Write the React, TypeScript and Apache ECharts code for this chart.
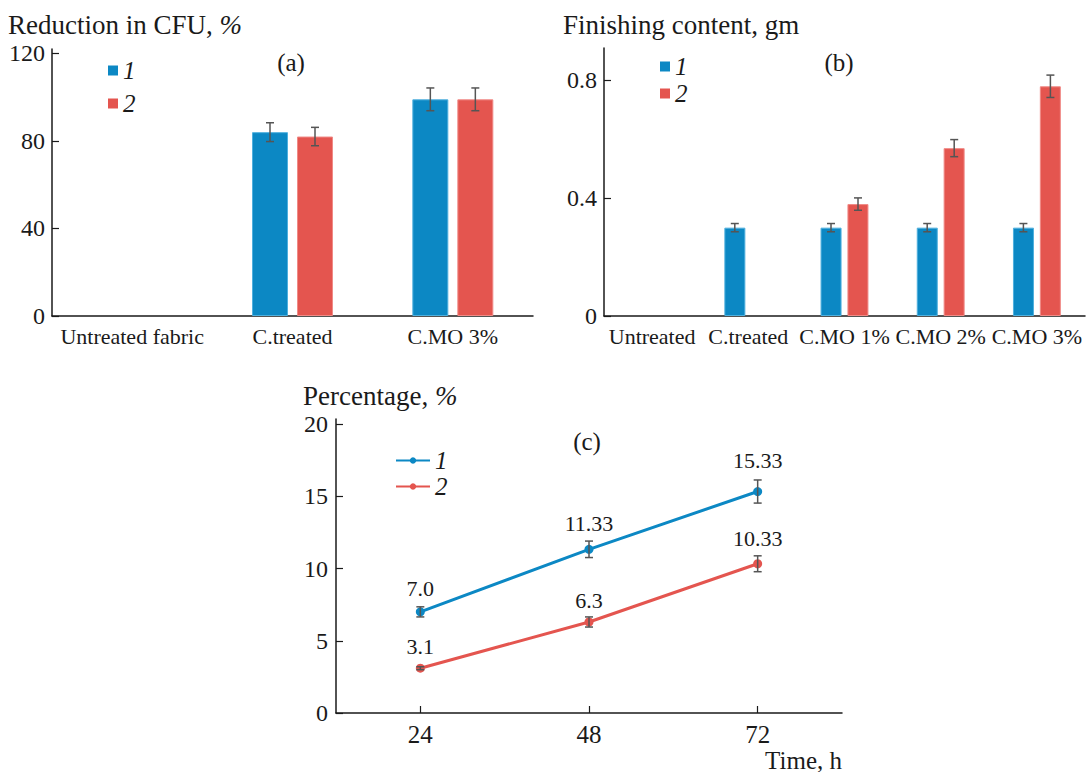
import React, { useEffect, useRef } from "react";
import * as echarts from "echarts";

// ---- Data ----
const catsA = ["Untreated fabric", "C.treated", "C.MO 3%"];
const a1 = [null, 84, 99];
const a2 = [null, 82, 99];
const a1Err = [null, 4.3, 5.2];
const a2Err = [null, 4.2, 5.2];

const catsB = ["Untreated", "C.treated", "C.MO 1%", "C.MO 2%", "C.MO 3%"];
const b1 = [null, 0.3, 0.3, 0.3, 0.3];
const b2 = [null, null, 0.38, 0.57, 0.78];
const b1Err = [null, 0.014, 0.014, 0.014, 0.014];
const b2Err = [null, null, 0.021, 0.029, 0.038];

const hours = [24, 48, 72];
const c1 = [7.0, 11.33, 15.33];
const c2 = [3.1, 6.3, 10.33];
const c1Labels = ["7.0", "11.33", "15.33"];
const c2Labels = ["3.1", "6.3", "10.33"];
const c1Err = [0.35, 0.57, 0.8];
const c2Err = [0.1, 0.35, 0.55];

const ticksA = [0, 40, 80, 120];
const ticksB = [0, 0.4, 0.8];
const ticksCy = [0, 5, 10, 15, 20];
const ticksCx = [24, 48, 72];

const FONT = "Liberation Serif, Times New Roman, serif";
const BLUE = "#0c88c4";
const BLUE_EDGE = "#4fb0de";
const RED = "#e4554f";
const RED_EDGE = "#f08a86";
const AXIS = "#1a1a1a";
const ERR = "#555555";
const TXT = "#1a1a1a";

function errSeries(
  xAxisIndex: number,
  yAxisIndex: number,
  xs: number[],
  vals: (number | null)[],
  errs: (number | null)[],
  offset: number
) {
  const data: number[][] = [];
  vals.forEach((v, i) => {
    if (v != null && errs[i] != null) data.push([xs[i], v, errs[i] as number]);
  });
  return {
    type: "custom",
    xAxisIndex,
    yAxisIndex,
    z: 5,
    silent: true,
    encode: { x: 0, y: 1 },
    data,
    renderItem: (params: any, api: any) => {
      const x = api.value(0);
      const v = api.value(1);
      const e = api.value(2);
      const p1 = api.coord([x, v + e]);
      const p2 = api.coord([x, v - e]);
      const cx = p1[0] + offset;
      const s = { stroke: ERR, lineWidth: 1.5 };
      return {
        type: "group",
        children: [
          { type: "line", shape: { x1: cx, y1: p1[1], x2: cx, y2: p2[1] }, style: s },
          { type: "line", shape: { x1: cx - 4, y1: p1[1], x2: cx + 4, y2: p1[1] }, style: s },
          { type: "line", shape: { x1: cx - 4, y1: p2[1], x2: cx + 4, y2: p2[1] }, style: s },
        ],
      };
    },
  };
}

const axisLineStyle = { show: true, lineStyle: { color: AXIS, width: 1.5 } };
const tickLabel = { fontFamily: FONT, fontSize: 24, color: TXT };

export default function App() {
  const ref = useRef<HTMLDivElement>(null);
  useEffect(() => {
    document.body.style.margin = "0";
    const chart = echarts.init(ref.current as HTMLDivElement, null, { renderer: "svg" });
    const idxA = catsA.map((_, i) => i);
    const idxB = catsB.map((_, i) => i);
    const legendText = {
      fontFamily: FONT,
      fontSize: 25,
      fontStyle: "italic",
      color: TXT,
      lineHeight: 24,
    };
    const barLabelX = { fontFamily: FONT, fontSize: 22, color: TXT, margin: 9, interval: 0 };
    const option: any = {
      animation: false,
      backgroundColor: "#ffffff",
      textStyle: { fontFamily: FONT },
      grid: [
        { left: 52, top: 49, width: 481, height: 267 },
        { left: 604, top: 48, width: 481, height: 268 },
        { left: 336, top: 419, width: 506, height: 294 },
      ],
      xAxis: [
        {
          type: "category",
          gridIndex: 0,
          data: catsA,
          axisLine: axisLineStyle,
          axisTick: { show: false },
          axisLabel: barLabelX,
        },
        {
          type: "category",
          gridIndex: 1,
          data: catsB,
          axisLine: axisLineStyle,
          axisTick: { show: false },
          axisLabel: barLabelX,
        },
        {
          type: "value",
          gridIndex: 2,
          min: 12,
          max: 84,
          axisLine: axisLineStyle,
          splitLine: { show: false },
          axisTick: { show: true, inside: true, length: 7, customValues: ticksCx, lineStyle: { color: AXIS, width: 1.2 } },
          axisLabel: { ...tickLabel, fontSize: 25, margin: 9, customValues: ticksCx },
        },
      ],
      yAxis: [
        {
          type: "value",
          gridIndex: 0,
          min: 0,
          max: 122,
          axisLine: axisLineStyle,
          splitLine: { show: false },
          axisTick: { show: true, inside: true, length: 7, customValues: ticksA, lineStyle: { color: AXIS, width: 1.2 } },
          axisLabel: { ...tickLabel, margin: 7, customValues: ticksA },
        },
        {
          type: "value",
          gridIndex: 1,
          min: 0,
          max: 0.91,
          axisLine: axisLineStyle,
          splitLine: { show: false },
          axisTick: { show: true, inside: true, length: 7, customValues: ticksB, lineStyle: { color: AXIS, width: 1.2 } },
          axisLabel: { ...tickLabel, margin: 7, customValues: ticksB },
        },
        {
          type: "value",
          gridIndex: 2,
          min: 0,
          max: 20.35,
          axisLine: axisLineStyle,
          splitLine: { show: false },
          axisTick: { show: true, inside: true, length: 7, customValues: ticksCy, lineStyle: { color: AXIS, width: 1.2 } },
          axisLabel: { ...tickLabel, margin: 8, customValues: ticksCy },
        },
      ],
      legend: [
        {
          data: ["a1", "a2"],
          orient: "vertical",
          left: 103,
          top: 53,
          icon: "rect",
          itemWidth: 10,
          itemHeight: 10,
          itemGap: 8,
          itemStyle: { borderWidth: 0 },
          selectedMode: false,
          formatter: (n: string) => n.slice(1),
          textStyle: legendText,
        },
        {
          data: ["b1", "b2"],
          orient: "vertical",
          left: 655,
          top: 49,
          icon: "rect",
          itemWidth: 10,
          itemHeight: 10,
          itemGap: 2,
          itemStyle: { borderWidth: 0 },
          selectedMode: false,
          formatter: (n: string) => n.slice(1),
          textStyle: legendText,
        },
        {
          data: ["c1", "c2"],
          orient: "vertical",
          left: 390,
          top: 443,
          itemWidth: 34,
          itemHeight: 8,
          itemGap: 1,
          selectedMode: false,
          formatter: (n: string) => n.slice(1),
          textStyle: legendText,
        },
      ],
      series: [
        {
          name: "a1",
          type: "bar",
          xAxisIndex: 0,
          yAxisIndex: 0,
          data: a1,
          barWidth: 36,
          barGap: "25%",
          itemStyle: { color: BLUE, borderColor: BLUE_EDGE, borderWidth: 1 },
        },
        {
          name: "a2",
          type: "bar",
          xAxisIndex: 0,
          yAxisIndex: 0,
          data: a2,
          barWidth: 36,
          barGap: "25%",
          itemStyle: { color: RED, borderColor: RED_EDGE, borderWidth: 1 },
        },
        errSeries(0, 0, idxA, a1, a1Err, -22.5),
        errSeries(0, 0, idxA, a2, a2Err, 22.5),
        {
          name: "b1",
          type: "bar",
          xAxisIndex: 1,
          yAxisIndex: 1,
          data: b1,
          barWidth: 21,
          barGap: "28%",
          itemStyle: { color: BLUE, borderColor: BLUE_EDGE, borderWidth: 1 },
        },
        {
          name: "b2",
          type: "bar",
          xAxisIndex: 1,
          yAxisIndex: 1,
          data: b2,
          barWidth: 21,
          barGap: "28%",
          itemStyle: { color: RED, borderColor: RED_EDGE, borderWidth: 1 },
        },
        errSeries(1, 1, idxB, b1, b1Err, -13.5),
        errSeries(1, 1, idxB, b2, b2Err, 13.5),
        {
          name: "c1",
          type: "line",
          xAxisIndex: 2,
          yAxisIndex: 2,
          data: hours.map((h, i) => ({ value: [h, c1[i]], label: { distance: [8, 10, 16][i] } })),
          symbol: "circle",
          symbolSize: 9,
          lineStyle: { color: BLUE, width: 3 },
          itemStyle: { color: BLUE },
          label: {
            show: true,
            position: "top",
            fontFamily: FONT,
            fontSize: 22,
            color: TXT,
            formatter: (p: any) => c1Labels[p.dataIndex],
          },
        },
        {
          name: "c2",
          type: "line",
          xAxisIndex: 2,
          yAxisIndex: 2,
          data: hours.map((h, i) => ({ value: [h, c2[i]], label: { distance: [6, 6, 10][i] } })),
          symbol: "circle",
          symbolSize: 9,
          lineStyle: { color: RED, width: 3 },
          itemStyle: { color: RED },
          label: {
            show: true,
            position: "top",
            fontFamily: FONT,
            fontSize: 22,
            color: TXT,
            formatter: (p: any) => c2Labels[p.dataIndex],
          },
        },
        errSeries(2, 2, hours, c1, c1Err, 0),
        errSeries(2, 2, hours, c2, c2Err, 0),
      ],
      graphic: [
        {
          type: "text",
          x: 8,
          y: 25,
          style: {
            text: "{n|Reduction in CFU, }{i|%}",
            verticalAlign: "middle",
            rich: {
              n: { fontFamily: FONT, fontSize: 27, fill: TXT },
              i: { fontFamily: FONT, fontSize: 27, fontStyle: "italic", fill: TXT },
            },
          },
        },
        {
          type: "text",
          x: 563,
          y: 25,
          style: { text: "Finishing content, gm", fontFamily: FONT, fontSize: 27, fill: TXT, verticalAlign: "middle" },
        },
        {
          type: "text",
          x: 303,
          y: 396,
          style: {
            text: "{n|Percentage, }{i|%}",
            verticalAlign: "middle",
            rich: {
              n: { fontFamily: FONT, fontSize: 27, fill: TXT },
              i: { fontFamily: FONT, fontSize: 27, fontStyle: "italic", fill: TXT },
            },
          },
        },
        {
          type: "text",
          x: 842,
          y: 760,
          style: { text: "Time, h", fontFamily: FONT, fontSize: 25, fill: TXT, align: "right", verticalAlign: "middle" },
        },
        {
          type: "text",
          x: 291,
          y: 62,
          style: { text: "(a)", fontFamily: FONT, fontSize: 25, fill: TXT, align: "center", verticalAlign: "middle" },
        },
        {
          type: "text",
          x: 839,
          y: 62,
          style: { text: "(b)", fontFamily: FONT, fontSize: 25, fill: TXT, align: "center", verticalAlign: "middle" },
        },
        {
          type: "text",
          x: 587,
          y: 441,
          style: { text: "(c)", fontFamily: FONT, fontSize: 25, fill: TXT, align: "center", verticalAlign: "middle" },
        },
      ],
    };
    chart.setOption(option);
    return () => chart.dispose();
  }, []);
  return <div ref={ref} style={{ width: 1087, height: 772 }} />;
}
